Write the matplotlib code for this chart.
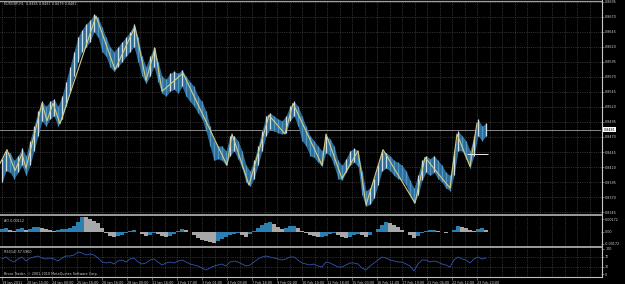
import matplotlib
matplotlib.use("Agg")
import matplotlib.pyplot as plt
import matplotlib.transforms as mtransforms
from matplotlib.lines import Line2D
import numpy as np

# ---------------- data ----------------
symbol_text = "EURGBP,H1  0.8485 0.8487 0.8479 0.8481"
price_hi = [0.8434, 0.8447, 0.8444, 0.8431, 0.8439, 0.8451, 0.8439, 0.8464, 0.8488, 0.8513,
            0.8529, 0.8521, 0.8529, 0.8533, 0.8521, 0.8538, 0.8562, 0.8587, 0.8612, 0.8636,
            0.8648, 0.8658, 0.8664, 0.8674, 0.8669, 0.8653, 0.8636, 0.8620, 0.8612, 0.8620,
            0.8628, 0.8636, 0.8645, 0.8658, 0.8636, 0.8604, 0.8587, 0.8604, 0.8620, 0.8595,
            0.8571, 0.8566, 0.8576, 0.8579, 0.8576, 0.8582, 0.8571, 0.8562, 0.8554, 0.8538,
            0.8529, 0.8513, 0.8488, 0.8464, 0.8455, 0.8455, 0.8447, 0.8472, 0.8472, 0.8464,
            0.8447, 0.8423, 0.8414, 0.8431, 0.8455, 0.8480, 0.8505, 0.8510, 0.8505, 0.8500,
            0.8497, 0.8505, 0.8521, 0.8529, 0.8521, 0.8505, 0.8488, 0.8472, 0.8464, 0.8455,
            0.8447, 0.8472, 0.8467, 0.8455, 0.8431, 0.8423, 0.8434, 0.8447, 0.8451, 0.8447,
            0.8414, 0.8381, 0.8385, 0.8401, 0.8423, 0.8447, 0.8444, 0.8439, 0.8431, 0.8428,
            0.8423, 0.8414, 0.8398, 0.8385, 0.8406, 0.8431, 0.8439, 0.8434, 0.8439, 0.8431,
            0.8423, 0.8411, 0.8406, 0.8447, 0.8480, 0.8472, 0.8464, 0.8447, 0.8472, 0.8500,
            0.8488, 0.8493]
price_lo = [0.8395, 0.8414, 0.8411, 0.8401, 0.8411, 0.8423, 0.8406, 0.8423, 0.8447, 0.8472,
            0.8497, 0.8488, 0.8500, 0.8505, 0.8488, 0.8500, 0.8521, 0.8546, 0.8571, 0.8595,
            0.8612, 0.8620, 0.8628, 0.8645, 0.8636, 0.8612, 0.8604, 0.8587, 0.8579, 0.8587,
            0.8595, 0.8604, 0.8612, 0.8620, 0.8595, 0.8571, 0.8559, 0.8571, 0.8587, 0.8562,
            0.8543, 0.8538, 0.8546, 0.8549, 0.8543, 0.8554, 0.8538, 0.8529, 0.8521, 0.8510,
            0.8500, 0.8480, 0.8455, 0.8431, 0.8434, 0.8431, 0.8423, 0.8439, 0.8447, 0.8434,
            0.8418, 0.8395, 0.8388, 0.8401, 0.8423, 0.8447, 0.8472, 0.8483, 0.8480, 0.8477,
            0.8475, 0.8477, 0.8497, 0.8505, 0.8488, 0.8464, 0.8455, 0.8439, 0.8436, 0.8428,
            0.8421, 0.8444, 0.8439, 0.8423, 0.8401, 0.8398, 0.8411, 0.8423, 0.8428, 0.8421,
            0.8373, 0.8355, 0.8358, 0.8368, 0.8390, 0.8414, 0.8418, 0.8414, 0.8406, 0.8401,
            0.8398, 0.8390, 0.8373, 0.8360, 0.8373, 0.8398, 0.8411, 0.8406, 0.8411, 0.8401,
            0.8395, 0.8385, 0.8381, 0.8406, 0.8447, 0.8447, 0.8434, 0.8418, 0.8439, 0.8472,
            0.8464, 0.8472]
zz_bar = [0, 7, 15, 22, 26, 42, 47, 53, 60, 96, 115, 135, 146, 155, 162, 183, 227, 232,
          249, 269, 285, 293, 322, 326, 342, 358, 366, 383, 415, 425, 450, 457, 470, 477]
zz_price = [0.8426, 0.8449, 0.8414, 0.8442, 0.8418, 0.8526, 0.8497, 0.8526, 0.8492, 0.8671,
            0.8582, 0.8653, 0.8564, 0.8617, 0.8546, 0.8576, 0.8423, 0.8475, 0.8390, 0.8506,
            0.8475, 0.8526, 0.8423, 0.8475, 0.8401, 0.8447, 0.8357, 0.8449, 0.8360, 0.8436,
            0.8385, 0.8475, 0.8421, 0.8493]
ao_vals = [0.00042, 0.00056, 0.00028, 0.00014, 0.00042, 0.00056, 0.00028, 0.00042, 0.00070, 0.00070,
           0.00056, 0.00042, 0.00028, 0.00014, 0.00028, 0.00042, 0.00042, 0.00056, 0.00084, 0.00140,
           0.00205, 0.00200, 0.00182, 0.00154, 0.00126, 0.00056, -0.00028, -0.00070, -0.00084, -0.00070,
           -0.00056, -0.00028, 0.00014, 0.00028, -0.00014, -0.00042, -0.00070, -0.00056, -0.00028, -0.00042,
           -0.00070, -0.00084, -0.00070, -0.00042, 0.00014, 0.00042, 0.00028, -0.00014, -0.00056, -0.00098,
           -0.00126, -0.00140, -0.00154, -0.00168, -0.00140, -0.00112, -0.00084, -0.00056, -0.00042, -0.00028,
           -0.00056, -0.00084, -0.00042, 0.00014, 0.00056, 0.00098, 0.00126, 0.00140, 0.00112, 0.00070,
           0.00042, 0.00056, 0.00084, 0.00084, 0.00056, 0.00014, -0.00028, -0.00056, -0.00070, -0.00084,
           -0.00084, -0.00070, -0.00042, -0.00028, -0.00056, -0.00084, -0.00098, -0.00084, -0.00056, -0.00042,
           -0.00056, -0.00084, -0.00056, -0.00014, 0.00042, 0.00098, 0.00140, 0.00126, 0.00098, 0.00070,
           0.00028, -0.00014, -0.00056, -0.00098, -0.00070, -0.00028, 0.00014, 0.00028, 0.00028, 0.00014,
           -0.00014, -0.00028, -0.00014, 0.00028, 0.00084, 0.00070, 0.00056, 0.00028, 0.00014, 0.00042,
           0.00056, 0.00028]
rsi_vals = [60, 68, 56, 48, 60, 68, 52, 64, 68, 72,
            64, 60, 64, 60, 52, 64, 72, 72, 76, 88,
            84, 76, 80, 76, 64, 48, 44, 48, 40, 52,
            56, 48, 60, 64, 48, 40, 44, 56, 60, 48,
            36, 44, 48, 44, 52, 56, 48, 40, 36, 32,
            24, 16, 24, 32, 36, 40, 32, 48, 52, 48,
            40, 32, 36, 48, 60, 68, 72, 68, 64, 60,
            56, 60, 68, 68, 56, 44, 40, 36, 40, 32,
            28, 48, 44, 36, 28, 28, 36, 44, 44, 40,
            24, 16, 32, 44, 56, 68, 64, 56, 52, 48,
            48, 40, 32, 12, 40, 56, 56, 48, 52, 48,
            40, 36, 28, 56, 68, 60, 56, 44, 60, 68,
            60, 64]
bid_price = 0.8482
bid_text = "0.8481"
order_level = 0.8441
order_bars = [467, 488]
price_ticks = [0.8345, 0.8370, 0.8395, 0.8420, 0.8445, 0.8470, 0.8495, 0.8520,
               0.8545, 0.8570, 0.8595, 0.8620, 0.8645, 0.8670, 0.8695]
ao_ticks = [-0.00172, 0.0, 0.00172]
ao_tick_labels = ["-0.00172", "0.00", "0.00172"]
rsi_ticks = [0, 30, 70, 100]
rsi_tick_labels = ["0", "30", "70", "100"]
date_labels = ["19 Jan 2011", "20 Jan 15:00", "24 Jan 00:00", "25 Jan 16:00", "26 Jan 16:00",
               "28 Jan 00:00", "31 Jan 16:00", "1 Feb 17:00", "3 Feb 01:00", "4 Feb 09:00",
               "7 Feb 18:00", "9 Feb 02:00", "10 Feb 10:00", "11 Feb 18:00", "15 Feb 03:00",
               "16 Feb 11:00", "17 Feb 19:00", "21 Feb 04:00", "22 Feb 12:00", "23 Feb 20:00"]
ao_text = "AO 0.00112"
rsi_text = "RSI(14) 57.5960"
copyright_text = "Broco Trader, \u00a9 2001-2010 MetaQuotes Software Corp."

# ---------------- layout ----------------
W, H = 625, 284
plt.rcParams['font.family'] = ['DejaVu Sans']
fig = plt.figure(figsize=(W / 100, H / 100), dpi=100, facecolor='black')


def rect(x0, y0, x1, y1):
    return [x0 / W, 1 - y1 / H, (x1 - x0) / W, (y1 - y0) / H]


ax = fig.add_axes(rect(0, 1, 601, 214))
ax_ao = fig.add_axes(rect(0, 216.5, 601, 246.5))
ax_rsi = fig.add_axes(rect(0, 248.5, 601, 277))

bars = np.arange(2, 2 + 4 * len(price_hi), 4)
XMAX = 601
grid_x = np.arange(2, XMAX, 12.5)
label_x = bars[0] + 25 * np.arange(len(date_labels))

TXT = '#cfcfcf'
GRID = '#585858'
FS = 2.4

for a in (ax, ax_ao, ax_rsi):
    a.set_facecolor('black')
    a.set_xlim(0, XMAX)
    for s in a.spines.values():
        s.set_visible(False)
    for gx in grid_x:
        a.axvline(gx, color=GRID, lw=0.5, ls=(0, (1, 1.6)), zorder=0)
    a.yaxis.tick_right()
    a.tick_params(axis='y', length=2, width=0.4, color='#b0b0b0', labelsize=FS,
                  labelcolor=TXT, pad=1)

# ---- main price window ----
ax.set_ylim(0.8342, 0.8696)
ax.set_yticks(price_ticks)
ax.set_yticklabels([f"{v:.4f}" for v in price_ticks])
for v in price_ticks:
    ax.axhline(v, color=GRID, lw=0.5, ls=(0, (1, 1.6)), zorder=0)
ax.set_xticks([])

hi = np.array(price_hi)
lo = np.array(price_lo)
mid = (hi + lo) / 2
up = np.r_[True, mid[1:] >= mid[:-1]]
ax.fill_between(bars, lo, hi, color='#2e6c98', lw=0, zorder=2)
cols = np.where(up, '#c9e0ec', '#4f95c4')
ax.vlines(bars, lo, hi, colors=cols, lw=0.9, zorder=2.5)
ax.plot(zz_bar, zz_price, color='#d6cc80', lw=0.8, zorder=3)
ax.axhline(bid_price, color='#8a8a8a', lw=0.7, zorder=1)
ax.hlines(order_level, order_bars[0], order_bars[1], color='#e8e8e8', lw=0.7, zorder=3)
tr = mtransforms.blended_transform_factory(ax.transAxes, ax.transData)
ax.text(1.004, bid_price, bid_text, transform=tr, fontsize=FS, color='black', va='center',
        ha='left', bbox=dict(boxstyle='square,pad=0.15', fc='white', ec='none'))
ax.text(0.006, 0.995, symbol_text, transform=ax.transAxes, fontsize=FS, color=TXT,
        va='top', ha='left')

# ---- AO window ----
ax_ao.set_ylim(-0.00213, 0.00213)
ax_ao.set_yticks(ao_ticks)
ax_ao.set_yticklabels(ao_tick_labels)
ao = np.array(ao_vals)
ao_up = np.r_[True, ao[1:] >= ao[:-1]]
ao_cols = np.where(ao_up, '#2c7fae', '#a8a8a8')
ax_ao.bar(bars, ao, width=4, color=ao_cols, linewidth=0, zorder=2)
ax_ao.set_xticks([])
ax_ao.text(0.006, 0.93, ao_text, transform=ax_ao.transAxes, fontsize=FS, color=TXT,
           va='top', ha='left')

# ---- RSI window ----
ax_rsi.set_ylim(-12, 102)
ax_rsi.set_yticks(rsi_ticks)
ax_rsi.set_yticklabels(rsi_tick_labels)
for lv in (30, 70):
    ax_rsi.axhline(lv, color=GRID, lw=0.5, ls=(0, (1, 1.6)), zorder=0)
ax_rsi.plot(bars, rsi_vals, color='#3456b0', lw=0.6, zorder=2)
ax_rsi.set_xticks(label_x)
ax_rsi.set_xticklabels(date_labels, ha='left')
ax_rsi.tick_params(axis='x', length=2, width=0.4, color='#b0b0b0', labelsize=FS,
                   labelcolor=TXT, pad=1.2)
ax_rsi.text(0.006, 0.95, rsi_text, transform=ax_rsi.transAxes, fontsize=FS, color=TXT,
            va='top', ha='left')
ax_rsi.text(0.006, 0.04, copyright_text, transform=ax_rsi.transAxes, fontsize=FS,
            color=TXT, va='bottom', ha='left')

# ---- frame lines (separators, axis borders) ----
def fline(x0, y0, x1, y1, c, lw):
    fig.add_artist(Line2D([x0 / W, x1 / W], [1 - y0 / H, 1 - y1 / H], color=c, lw=lw,
                          transform=fig.transFigure))

fline(0, 0.6, 601, 0.6, '#a0a0a0', 0.9)
fline(0, 215.3, 601, 215.3, '#a8a8a8', 1.3)
fline(0, 247.4, 601, 247.4, '#a8a8a8', 1.3)
fline(0, 277.4, 601.5, 277.4, '#c0c0c0', 0.8)
fline(601.5, 0, 601.5, 277.4, '#c8c8c8', 0.8)

fig.savefig("out.png", dpi=100, facecolor='black')
